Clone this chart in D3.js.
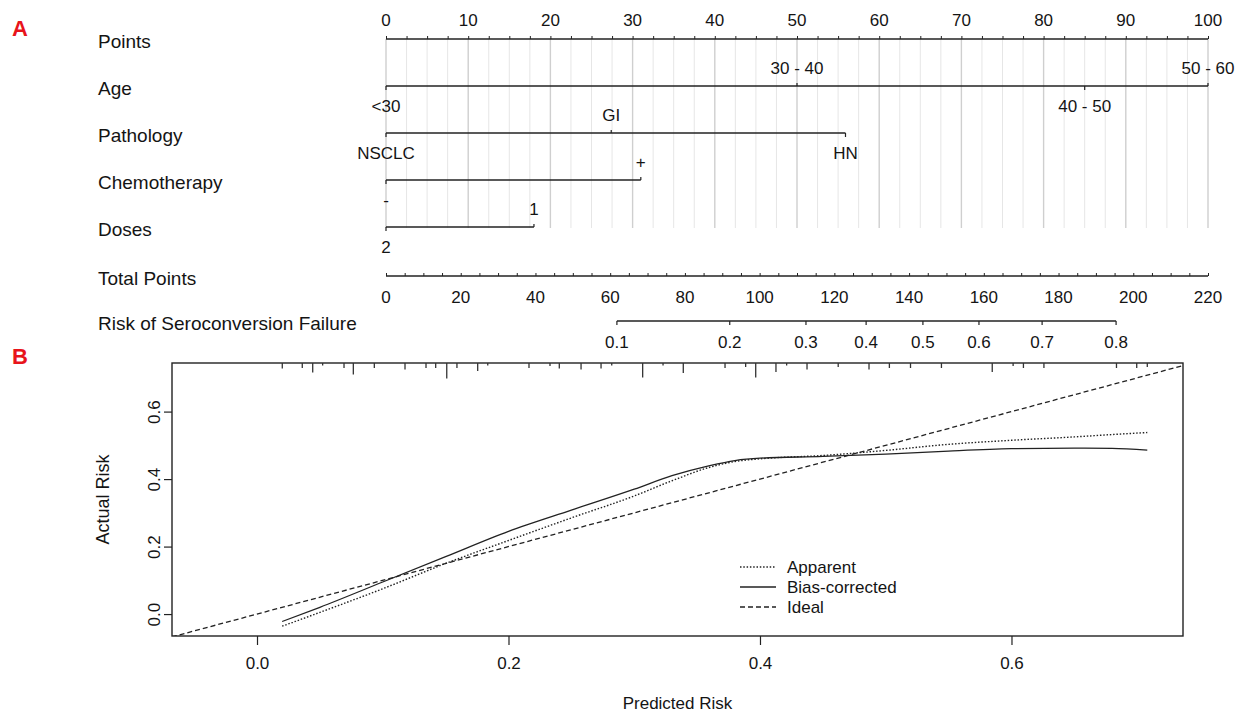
<!DOCTYPE html>
<html>
<head>
<meta charset="utf-8">
<script src="https://cdn.jsdelivr.net/npm/d3@7/dist/d3.min.js"></script>
<style>
body { margin:0; background:#fff; }
text { font-family:"Liberation Sans", Arial, sans-serif; fill:#141414; }
</style>
</head>
<body>
<div id="chart"></div>
<script>
// ---- nomogram data ----
var pointsTicks = [0,10,20,30,40,50,60,70,80,90,100];
var totalTicks = [0,20,40,60,80,100,120,140,160,180,200,220];

var ageLevels = ["<30","30 - 40","40 - 50","50 - 60"];
var agePoints = [0,50,85,100];
var pathLevels = ["NSCLC","GI","HN"];
var pathPoints = [0,27.4,55.9];
var chemoLevels = ["-","+"];
var chemoPoints = [0,31];
var doseLevels = ["2","1"];
var dosePoints = [0,18];

var riskTicks = ["0.1","0.2","0.3","0.4","0.5","0.6","0.7","0.8"];
var riskTotalPoints = [61.8,92.0,112.4,128.5,143.7,158.7,175.6,195.4];

// ---- calibration data ----
var calPredicted = [0.02,0.05,0.1,0.15,0.2,0.25,0.3,0.33,0.36,0.38,0.4,0.45,0.5,0.55,0.6,0.65,0.68,0.708];
var calApparent  = [-0.036,0.005,0.075,0.15,0.218,0.285,0.35,0.395,0.435,0.452,0.46,0.47,0.485,0.503,0.515,0.525,0.532,0.538];
var calBiasCorr  = [-0.022,0.02,0.095,0.17,0.245,0.308,0.37,0.41,0.44,0.455,0.462,0.467,0.474,0.483,0.49,0.492,0.491,0.486];
var idealRange = [-0.08,0.76];

// rug of predicted values along the top (relative frequency)
var rugRisk = [0.0201,0.0360,0.0443,0.0522,0.0692,0.0766,0.0933,0.1177,0.1344,0.1421,0.1509,0.1590,0.1755,0.1835,
	0.2163,0.2330,0.2404,0.2577,0.2736,0.2821,0.3067,0.3229,0.3390,0.3722,0.3886,0.3966,0.4127,0.4212,0.4374,
	0.4622,0.4867,0.5029,0.5197,0.5443,0.5847,0.6013,0.6095,0.6258,0.6835,0.6996,0.7080];
var rugFreq = [2.2,2,3.8,1,2,4.6,2,2.6,2,2,6.2,2,3.2,1,2,1.2,2.2,2.6,2.2,1,5.8,1,4,2,1.6,5.8,3.6,1,2.6,1.6,2.6,2,2,2,3.6,1.2,2,2,2,2,1.6];

var yTicks = [0,0.2,0.4,0.6];
var xTicks = [0,0.2,0.4,0.6];
var legendNames = ["Apparent","Bias-corrected","Ideal"];

var width = 1235, height = 716;

var svg = d3.select("#chart").append("svg")
	.attr("width", width)
	.attr("height", height);

svg.append("rect").attr("width", width).attr("height", height).style("fill", "#fff");

///////////////////////////////////////////////////////////////////////////
/////////////////////////////// Panel A ///////////////////////////////////
///////////////////////////////////////////////////////////////////////////

var xPts = d3.scaleLinear().domain([0,100]).range([386,1208]);
var xTot = d3.scaleLinear().domain([0,220]).range([386,1208]);

var rowY = [39,86,133,180,227,276,321];
var rowNames = ["Points","Age","Pathology","Chemotherapy","Doses","Total Points","Risk of Seroconversion Failure"];

svg.append("text").text("A")
	.attr("x", 12).attr("y", 36)
	.style("font-size", "22px").style("font-weight", "bold").style("fill", "#e8141b");

// vertical grid lines every 2.5 points
var grid = svg.append("g");
grid.selectAll("line")
	.data(d3.range(0, 100.1, 2.5))
	.enter().append("line")
	.attr("x1", function(d){ return xPts(d); })
	.attr("x2", function(d){ return xPts(d); })
	.attr("y1", rowY[0])
	.attr("y2", 228)
	.style("stroke", function(d){ return d % 10 === 0 ? "#cfcfcf" : "#e6e6e6"; })
	.style("stroke-width", function(d){ return d % 10 === 0 ? 1.4 : 1; });

svg.selectAll(".rowname")
	.data(rowNames)
	.enter().append("text")
	.attr("class", "rowname")
	.attr("x", 98)
	.attr("y", function(d,i){ return rowY[i] + 2; })
	.attr("dy", "0.35em")
	.style("font-size", "19px")
	.text(function(d){ return d; });

// Points axis
var ptsAxis = svg.append("g").attr("transform", "translate(0," + rowY[0] + ")")
	.call(d3.axisTop(xPts).tickValues(d3.range(0,100.1,2.5)).tickSize(3).tickFormat(""));
ptsAxis.select(".domain").attr("d", "M" + xPts(0) + ",0H" + xPts(100)).style("stroke", "#222").style("stroke-width", 1.5);
ptsAxis.selectAll(".tick line").style("stroke", "#222");
svg.selectAll(".ptslab")
	.data(pointsTicks)
	.enter().append("text")
	.attr("class", "ptslab")
	.attr("x", function(d){ return xPts(d); })
	.attr("y", 20).attr("dy", "0.35em")
	.style("font-size", "17px").style("text-anchor", "middle")
	.text(function(d){ return d; });

// variable scales
function drawVar(levels, points, y) {
	var g = svg.append("g");
	var ext = d3.extent(points);
	g.append("line")
		.attr("x1", xPts(ext[0])).attr("x2", xPts(ext[1]))
		.attr("y1", y).attr("y2", y)
		.style("stroke", "#222").style("stroke-width", 1.5);
	var order = d3.range(levels.length).sort(function(a,b){ return points[a]-points[b]; });
	order.forEach(function(k, j){
		var above = j % 2 === 1;
		g.append("line")
			.attr("x1", xPts(points[k])).attr("x2", xPts(points[k]))
			.attr("y1", y).attr("y2", above ? y - 3 : y + 4)
			.style("stroke", "#222").style("stroke-width", 1.2);
		g.append("text")
			.attr("x", xPts(points[k]))
			.attr("y", above ? y - 18 : y + 20)
			.attr("dy", "0.35em")
			.style("font-size", "17px").style("text-anchor", "middle")
			.text(levels[k]);
	});
}
drawVar(ageLevels, agePoints, rowY[1]);
drawVar(pathLevels, pathPoints, rowY[2]);
drawVar(chemoLevels, chemoPoints, rowY[3]);
drawVar(doseLevels, dosePoints, rowY[4]);

// Total points axis
var totAxis = svg.append("g").attr("transform", "translate(0," + rowY[5] + ")")
	.call(d3.axisTop(xTot).tickValues(d3.range(0,220.1,5)).tickSize(3).tickFormat(""));
totAxis.select(".domain").attr("d", "M" + xTot(0) + ",0H" + xTot(220)).style("stroke", "#222").style("stroke-width", 1.5);
totAxis.selectAll(".tick line").style("stroke", "#222");
svg.selectAll(".totlab")
	.data(totalTicks)
	.enter().append("text")
	.attr("class", "totlab")
	.attr("x", function(d){ return xTot(d); })
	.attr("y", rowY[5] + 21).attr("dy", "0.35em")
	.style("font-size", "17px").style("text-anchor", "middle")
	.text(function(d){ return d; });

// Risk axis
var riskG = svg.append("g");
riskG.append("line")
	.attr("x1", xTot(d3.min(riskTotalPoints))).attr("x2", xTot(d3.max(riskTotalPoints)))
	.attr("y1", rowY[6]).attr("y2", rowY[6])
	.style("stroke", "#222").style("stroke-width", 1.5);
riskG.selectAll("line.tk")
	.data(riskTotalPoints)
	.enter().append("line")
	.attr("class", "tk")
	.attr("x1", function(d){ return xTot(d); }).attr("x2", function(d){ return xTot(d); })
	.attr("y1", rowY[6]).attr("y2", rowY[6] + 4)
	.style("stroke", "#222").style("stroke-width", 1.2);
riskG.selectAll("text")
	.data(riskTotalPoints)
	.enter().append("text")
	.attr("x", function(d){ return xTot(d); })
	.attr("y", rowY[6] + 21).attr("dy", "0.35em")
	.style("font-size", "17px").style("text-anchor", "middle")
	.text(function(d,i){ return riskTicks[i]; });

///////////////////////////////////////////////////////////////////////////
/////////////////////////////// Panel B ///////////////////////////////////
///////////////////////////////////////////////////////////////////////////

svg.append("text").text("B")
	.attr("x", 12).attr("y", 364)
	.style("font-size", "22px").style("font-weight", "bold").style("fill", "#e8141b");

var box = {left:172, right:1183, top:363, bottom:636};
var x = d3.scaleLinear().domain([-0.0676,0.7364]).range([box.left, box.right]);
var y = d3.scaleLinear().domain([-0.065,0.744]).range([box.bottom, box.top]);

svg.append("defs").append("clipPath").attr("id", "clipB")
	.append("rect")
	.attr("x", box.left).attr("y", box.top)
	.attr("width", box.right - box.left).attr("height", box.bottom - box.top);

svg.append("rect")
	.attr("x", box.left).attr("y", box.top)
	.attr("width", box.right - box.left).attr("height", box.bottom - box.top)
	.style("fill", "none").style("stroke", "#222").style("stroke-width", 1.4);

// rug along top
var rugLen = d3.scaleLinear().domain([0, d3.max(rugFreq)]).range([0, 15.5]);
svg.append("g").selectAll("line")
	.data(rugRisk)
	.enter().append("line")
	.attr("x1", function(d){ return x(d); }).attr("x2", function(d){ return x(d); })
	.attr("y1", box.top).attr("y2", function(d,i){ return box.top + rugLen(rugFreq[i]); })
	.style("stroke", "#333").style("stroke-width", 1.3);

var xAxis = svg.append("g").attr("transform", "translate(0," + box.bottom + ")")
	.call(d3.axisBottom(x).tickValues(xTicks).tickSize(9).tickFormat(d3.format(".1f")));
xAxis.select(".domain").remove();
xAxis.selectAll(".tick line").style("stroke", "#222").style("stroke-width", 1.2);
xAxis.selectAll("text").attr("y", 27).attr("dy", "0.35em").style("font-size", "17px").style("fill", "#141414");

var yAxis = svg.append("g").attr("transform", "translate(" + box.left + ",0)")
	.call(d3.axisLeft(y).tickValues(yTicks).tickSize(8).tickFormat(d3.format(".1f")));
yAxis.select(".domain").remove();
yAxis.selectAll(".tick line").style("stroke", "#222").style("stroke-width", 1.2);
yAxis.selectAll("text")
	.attr("x", 0).attr("dy", null).attr("y", -12)
	.attr("transform", "rotate(-90)")
	.style("text-anchor", "middle").style("font-size", "17px").style("fill", "#141414");

svg.append("text").text("Predicted Risk")
	.attr("x", (box.left + box.right)/2).attr("y", 703).attr("dy", "0.35em")
	.style("font-size", "17px").style("text-anchor", "middle");
svg.append("text").text("Actual Risk")
	.attr("transform", "translate(103," + ((box.top + box.bottom)/2) + ") rotate(-90)")
	.attr("dy", "0.35em")
	.style("font-size", "18px").style("text-anchor", "middle");

var plot = svg.append("g").attr("clip-path", "url(#clipB)");

var line = d3.line()
	.x(function(d){ return x(d[0]); })
	.y(function(d){ return y(d[1]); })
	.curve(d3.curveMonotoneX);

// ideal
plot.append("path")
	.datum(idealRange.map(function(v){ return [v, v]; }))
	.attr("d", d3.line().x(function(d){ return x(d[0]); }).y(function(d){ return y(d[1]); }))
	.style("fill", "none").style("stroke", "#222").style("stroke-width", 1.3)
	.style("stroke-dasharray", "5,3");

plot.append("path")
	.datum(calPredicted.map(function(v,i){ return [v, calApparent[i]]; }))
	.attr("d", line)
	.style("fill", "none").style("stroke", "#222").style("stroke-width", 1.4)
	.style("stroke-dasharray", "1.5,1.8");

plot.append("path")
	.datum(calPredicted.map(function(v,i){ return [v, calBiasCorr[i]]; }))
	.attr("d", line)
	.style("fill", "none").style("stroke", "#222").style("stroke-width", 1.3);

// legend
var dashes = ["1.5,1.8", null, "5,3"];
var legend = svg.append("g").selectAll("g")
	.data(legendNames)
	.enter().append("g")
	.attr("transform", function(d,i){ return "translate(740," + (567 + i*20) + ")"; });
legend.append("line")
	.attr("x1", 0).attr("x2", 36)
	.style("stroke", "#222").style("stroke-width", 1.3)
	.style("stroke-dasharray", function(d,i){ return dashes[i]; });
legend.append("text")
	.attr("x", 47).attr("dy", "0.35em")
	.style("font-size", "17px")
	.text(function(d){ return d; });
</script>
</body>
</html>
